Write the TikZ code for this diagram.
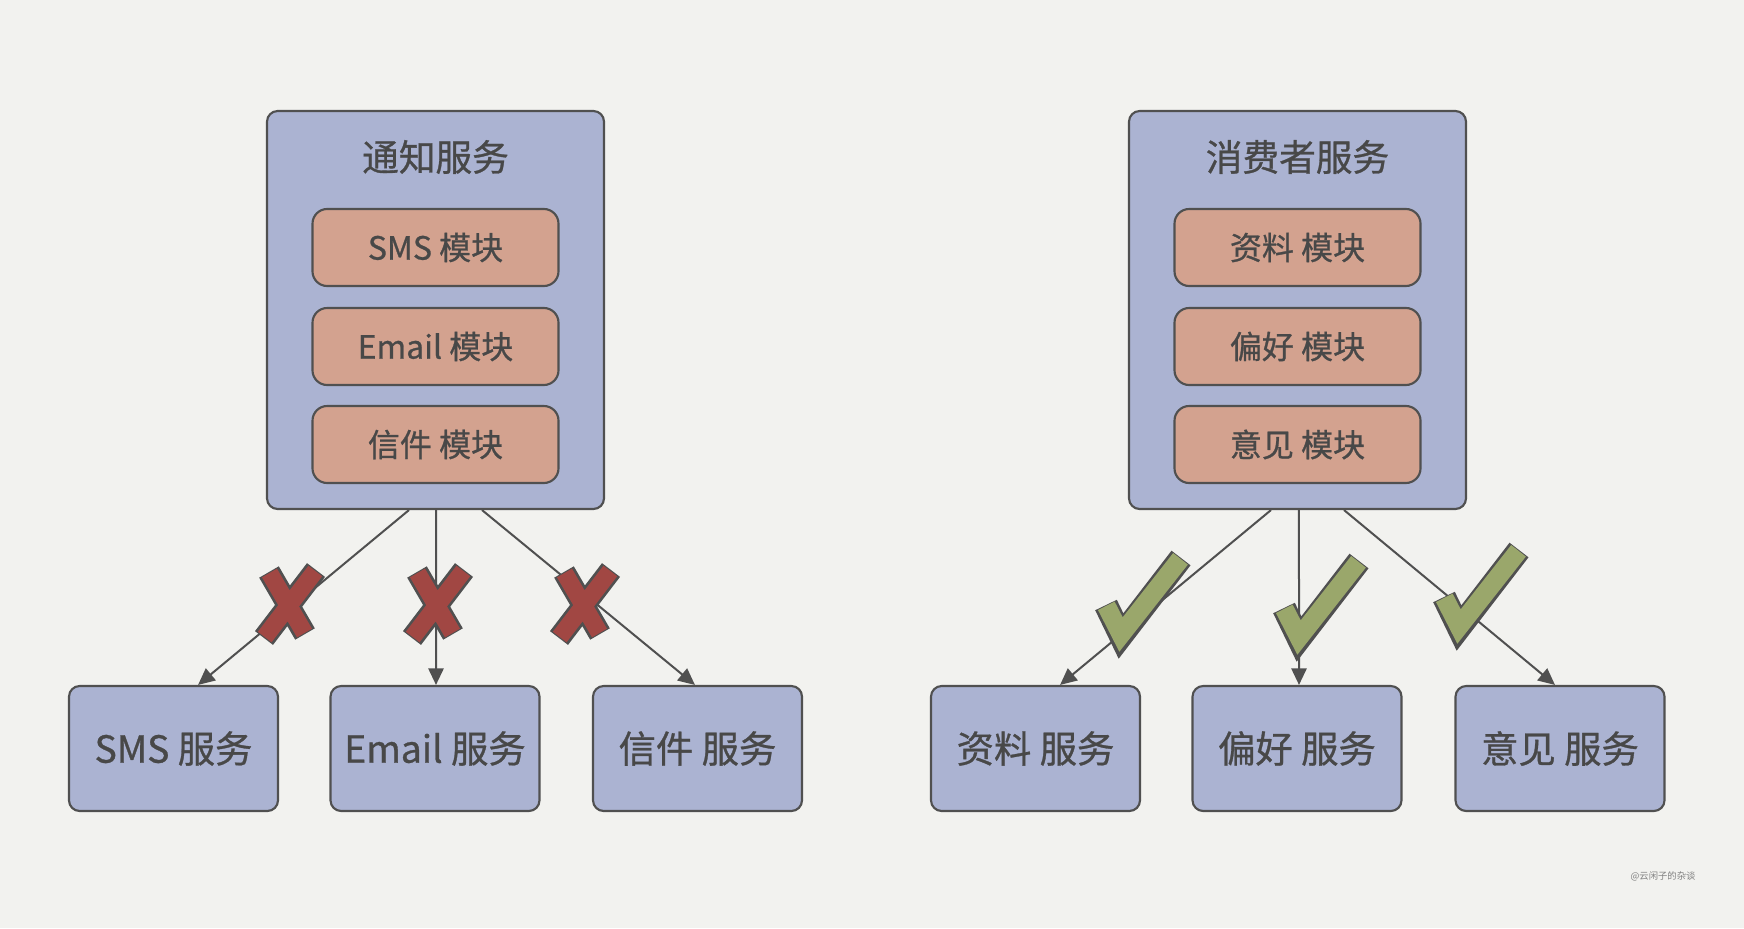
\documentclass[tikz,border=0pt]{standalone}
\usepackage{fontspec}
\newfontfamily\cjk[FakeBold=0.8]{Noto Sans CJK SC}
\newfontfamily\cjkwm{Noto Sans CJK SC}
\usetikzlibrary{arrows.meta}
\definecolor{bgc}{HTML}{F2F2EF}
\definecolor{bluef}{HTML}{ABB3D2}
\definecolor{salm}{HTML}{D3A28F}
\definecolor{edgec}{HTML}{505050}
\definecolor{txt}{HTML}{484848}
\definecolor{xred}{HTML}{A14743}
\definecolor{okgreen}{HTML}{9AA76B}
\tikzset{
  container/.style={draw=edgec, line width=1.6pt, fill=bluef, rounded corners=8pt,
    minimum width=252.75pt, minimum height=298.5pt, inner sep=0pt},
  ttl/.style={font=\cjk\fontsize{27.5}{30}\selectfont, text=txt, inner sep=0pt},
  module/.style={draw=edgec, line width=1.6pt, fill=salm, rounded corners=11pt,
    minimum width=184.5pt, minimum height=57.75pt, inner sep=0pt,
    font=\cjk\fontsize{24}{27}\selectfont, text=txt},
  svc/.style={draw=edgec, line width=1.6pt, fill=bluef, rounded corners=8pt,
    minimum width=156.75pt, minimum height=93.75pt, inner sep=0pt,
    font=\cjk\fontsize{28}{31}\selectfont, text=txt},
  arr/.style={draw=edgec, line width=1.5pt, -{Triangle[length=12.5pt,width=11.5pt]}},
  xout/.style={draw=edgec, line width=17pt, line cap=butt},
  xin/.style={draw=xred, line width=13pt, line cap=butt},
  cout/.style={draw=edgec, line width=18pt, line cap=butt, line join=miter},
  cin/.style={draw=okgreen, line width=14pt, line cap=butt, line join=miter},
  redx/.pic={
    \draw[xout] (-19,-32) -- (17,30) (28,-34) -- (-24,34);
    \draw[xin] (-18.5,-31) -- (16.5,29) (27.3,-33) -- (-23.3,33);
  },
  okcheck/.pic={
    \draw[cout] (-15,-31) -- (0,0) -- (60,-78);
    \draw[cin] (-14.7,-30.2) -- (0,-1.5) -- (59.5,-77.2);
  }
}
\begin{document}
\begin{tikzpicture}[x=0.75pt, y=-0.75pt]
\fill[bgc] (0,0) rectangle (1744,928);
\useasboundingbox (0,0) rectangle (1744,928);

% left container
\node[container] (L) at (435.5,310) {};
\node[ttl] (Lt) at (435.5,157) {通知服务};
\node[module] (L1) at (435.5,247.5) {SMS 模块};
\node[module] (L2) at (435.5,346.5) {Email 模块};
\node[module] (L3) at (435.5,444.5) {信件 模块};

% right container
\node[container] (R) at (1297.5,310) {};
\node[ttl] (Rt) at (1297.5,157) {消费者服务};
\node[module] (R1) at (1297.5,247.5) {资料 模块};
\node[module] (R2) at (1297.5,346.5) {偏好 模块};
\node[module] (R3) at (1297.5,444.5) {意见 模块};

% bottom services
\node[svc] (s1) at (173.5,748.5) {SMS 服务};
\node[svc] (s2) at (435,748.5) {Email 服务};
\node[svc] (s3) at (697.5,748.5) {信件 服务};
\node[svc] (s4) at (1035.5,748.5) {资料 服务};
\node[svc] (s5) at (1297,748.5) {偏好 服务};
\node[svc] (s6) at (1560,748.5) {意见 服务};

% connectors
\draw[arr] ([xshift=-19.9pt]L.south) -- ([xshift=18.4pt]s1.north);
\draw[arr] ([xshift=0.4pt]L.south) -- ([xshift=0.75pt]s2.north);
\draw[arr] ([xshift=34.9pt]L.south) -- ([xshift=-1.9pt]s3.north);
\draw[arr] ([xshift=-19.9pt]R.south) -- ([xshift=18.4pt]s4.north);
\draw[arr] ([xshift=1.1pt]R.south) -- ([xshift=1.5pt]s5.north);
\draw[arr] ([xshift=34.9pt]R.south) -- ([xshift=-3.75pt]s6.north);

% marks
\pic at (288,604) {redx};
\pic at (436,604) {redx};
\pic at (583,604) {redx};
\pic at (1121,636) {okcheck};
\pic at (1299,639) {okcheck};
\pic at (1459,628) {okcheck};

\node[font=\cjkwm\fontsize{7}{8}\selectfont, text=gray, inner sep=0pt] (wm) at (1663,876) {@云闲子的杂谈};
\end{tikzpicture}
\end{document}
